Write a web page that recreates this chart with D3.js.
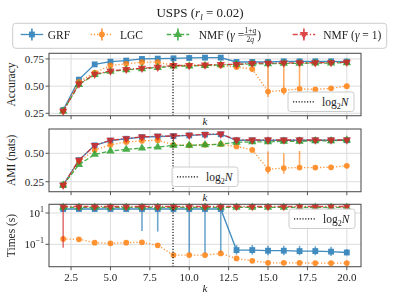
<!DOCTYPE html>
<html>
<head>
<meta charset="utf-8">
<script src="https://cdn.jsdelivr.net/npm/d3@7"></script>
<style>
body{margin:0;background:#fff}
text{font-family:"Liberation Serif","Times New Roman",serif;fill:#222}
</style>
</head>
<body>
<svg id="canvas" width="400" height="300"></svg>
<script>
let ks = [2,3,4,5,6,7,8,9,10,11,12,13,14,15,16,17,18,19,20]
let xTicks = [2.5,5,7.5,10,12.5,15,17.5,20]
let log2N = 8.97

// accuracy
let accGRF  = [0.28,0.56,0.70,0.725,0.735,0.75,0.753,0.756,0.759,0.762,0.762,0.722,0.722,0.722,0.728,0.728,0.728,0.728,0.726]
let accLGC  = [0.27,0.54,0.625,0.69,0.705,0.72,0.72,0.69,0.69,0.69,0.69,0.675,0.657,0.45,0.46,0.475,0.47,0.48,0.50]
let accNMFq = [0.27,0.515,0.605,0.635,0.65,0.66,0.67,0.685,0.685,0.69,0.695,0.70,0.705,0.705,0.71,0.71,0.712,0.712,0.715]
let accNMF1 = [0.27,0.52,0.61,0.64,0.655,0.665,0.675,0.69,0.69,0.695,0.70,0.70,0.71,0.712,0.713,0.715,0.715,0.717,0.72]
let accTicks = [0.25,0.50,0.75]

// AMI
let amiGRF  = [0.22,0.44,0.57,0.612,0.628,0.643,0.648,0.652,0.658,0.665,0.668,0.615,0.615,0.615,0.615,0.615,0.615,0.615,0.615]
let amiLGC  = [0.22,0.426,0.53,0.575,0.60,0.61,0.615,0.575,0.57,0.575,0.58,0.56,0.53,0.36,0.37,0.375,0.374,0.377,0.39]
let amiNMFq = [0.22,0.40,0.49,0.52,0.535,0.545,0.555,0.57,0.57,0.575,0.58,0.597,0.60,0.60,0.605,0.605,0.61,0.61,0.617]
let amiNMF1 = [0.22,0.44,0.57,0.615,0.63,0.645,0.65,0.653,0.66,0.667,0.67,0.617,0.617,0.617,0.617,0.617,0.617,0.617,0.617]
let amiTicks = [0.25,0.50]

// times (s)
let timeGRF  = [18,18,18,18,18,18,18,18,18,18,18,0.043,0.043,0.039,0.039,0.037,0.037,0.034,0.030]
let timeLGC  = [0.22,0.21,0.128,0.116,0.128,0.135,0.086,0.0205,0.0205,0.0205,0.026,0.0125,0.0089,0.0066,0.0066,0.0065,0.0063,0.0063,0.0063]
let timeNMFq = [23,23,23,23,23,23,23,23,23,23,23,23,23,23,23,23,23,23,23]
let timeNMF1 = [26,26,26,26,26,26,26,26,26,26,26,26,26,26,26,26,26,26,26]
let timeTicks = [0.1,10]

// error bars: [series, k, low, high]
let errAcc = [['LGC',14,0.635,0.68],['LGC',15,0.40,0.72],['LGC',16,0.42,0.71],['LGC',17,0.465,0.71]]
let errAmi = [['LGC',15,0.32,0.515],['LGC',16,0.32,0.50],['LGC',17,0.38,0.52],
              ['NMF1',13,0.59,0.645],['NMF1',15,0.59,0.645],['NMF1',17,0.59,0.645],['NMF1',19,0.595,0.64]]
let errTime = [['NMF1',2,0.06,26],['GRF',7,0.7,18],['GRF',8,0.65,18],['GRF',10,0.025,18],['GRF',11,0.027,18],['GRF',12,0.027,18],
               ['GRF',13,0.022,0.09],['GRF',14,0.022,0.09],['GRF',15,0.02,0.08],['GRF',16,0.02,0.08],
               ['GRF',17,0.02,0.08],['GRF',18,0.02,0.075],['GRF',19,0.018,0.07],['GRF',20,0.02,0.05]]

let series = [
  {key:'GRF',  color:'#1f77b4', dash:null,        sym:d3.symbolSquare,   size:34, rot:false},
  {key:'LGC',  color:'#ff7f0e', dash:'1.2,2',     sym:d3.symbolCircle,   size:26, rot:false},
  {key:'NMFq', color:'#2ca02c', dash:'4.5,2',     sym:d3.symbolTriangle, size:30, rot:false},
  {key:'NMF1', color:'#d62728', dash:'5,2,1.2,2', sym:d3.symbolTriangle, size:30, rot:true}
]

let canvas = d3.select('#canvas')
let x = d3.scaleLinear().domain([1.1,20.9]).range([49,361])

let panels = [
  {y0:53.3, y1:115.7, y:d3.scaleLinear().domain([0.228,0.802]), ticks:accTicks, label:'Accuracy',
   values:{GRF:accGRF, LGC:accLGC, NMFq:accNMFq, NMF1:accNMF1}, err:errAcc, box:[288,92], log:false},
  {y0:129, y1:191.7, y:d3.scaleLinear().domain([0.162,0.714]), ticks:amiTicks, label:'AMI (nats)',
   values:{GRF:amiGRF, LGC:amiLGC, NMFq:amiNMFq, NMF1:amiNMF1}, err:errAmi, box:[172,167], log:false},
  {y0:204.3, y1:266.7, y:d3.scaleLog().domain([Math.pow(10,-2.43), Math.pow(10,1.556)]), ticks:timeTicks, label:'Times (s)',
   values:{GRF:timeGRF, LGC:timeLGC, NMFq:timeNMFq, NMF1:timeNMF1}, err:errTime, box:[289,209], log:true}
]

let drawMarker = (g, s, cx, cy) => {
  g.append('path')
    .attr('transform', 'translate(' + cx + ',' + cy + ')' + (s.rot ? ' rotate(180)' : ''))
    .attr('d', d3.symbol().type(s.sym).size(s.size)())
    .attr('fill', s.color)
}

panels.forEach((p, pi) => {
  p.y.range([p.y1, p.y0])
  let g = canvas.append('g')

  // grid
  g.selectAll('.gx').data(xTicks).enter().append('line')
    .attr('x1', d => x(d)).attr('x2', d => x(d)).attr('y1', p.y0).attr('y2', p.y1)
    .attr('stroke', '#dcdcdc').attr('stroke-width', 1)
  g.selectAll('.gy').data(p.ticks).enter().append('line')
    .attr('x1', 49).attr('x2', 361).attr('y1', d => p.y(d)).attr('y2', d => p.y(d))
    .attr('stroke', '#dcdcdc').attr('stroke-width', 1)

  // series
  series.forEach(s => {
    let vals = p.values[s.key]
    let gs = g.append('g').attr('opacity', 0.85)
    p.err.filter(e => e[0] === s.key).forEach(e => {
      gs.append('line')
        .attr('x1', x(e[1])).attr('x2', x(e[1]))
        .attr('y1', p.y(e[2])).attr('y2', p.y(e[3]))
        .attr('stroke', s.color).attr('stroke-width', 1.6).attr('opacity', 0.75)
    })
    let line = d3.line().x((d, i) => x(ks[i])).y(d => p.y(d))
    gs.append('path').datum(vals).attr('d', line)
      .attr('fill', 'none').attr('stroke', s.color).attr('stroke-width', 1.3)
      .attr('stroke-dasharray', s.dash)
    vals.forEach((v, i) => drawMarker(gs, s, x(ks[i]), p.y(v)))
  })

  // log2 N line
  let allVals = [].concat(...series.map(s => p.values[s.key]))
  g.append('line')
    .attr('x1', x(log2N)).attr('x2', x(log2N))
    .attr('y1', p.y1).attr('y2', p.y(d3.max(allVals)))
    .attr('stroke', '#111').attr('stroke-width', 1.2).attr('stroke-dasharray', '1.2,1.6')

  // frame
  g.append('rect').attr('x', 49).attr('y', p.y0).attr('width', 312).attr('height', p.y1 - p.y0)
    .attr('fill', 'none').attr('stroke', '#555').attr('stroke-width', 1.1)

  // x ticks
  g.selectAll('.tx').data(xTicks).enter().append('line')
    .attr('x1', d => x(d)).attr('x2', d => x(d)).attr('y1', p.y1).attr('y2', p.y1 + 3.5)
    .attr('stroke', '#555')
  if (pi === 2) {
    g.selectAll('.lx').data(xTicks).enter().append('text')
      .attr('x', d => x(d)).attr('y', 281).attr('text-anchor', 'middle')
      .attr('font-size', 11).text(d => d.toFixed(1))
  }
  g.append('text').attr('x', 205).attr('y', pi === 2 ? 292 : p.y1 + 9.5)
    .attr('text-anchor', 'middle').attr('font-size', 11).attr('font-style', 'italic').text('k')

  // y ticks
  g.selectAll('.ty').data(p.ticks).enter().append('line')
    .attr('x1', 45.5).attr('x2', 49).attr('y1', d => p.y(d)).attr('y2', d => p.y(d))
    .attr('stroke', '#555')
  p.ticks.forEach(t => {
    let tx = g.append('text').attr('x', 44).attr('y', p.y(t) + 4).attr('text-anchor', 'end').attr('font-size', 11)
    if (p.log) {
      let e = Math.round(Math.log10(t))
      tx.append('tspan').text('10')
      tx.append('tspan').attr('dy', -5).attr('font-size', 8).text(e < 0 ? '\u2212' + (-e) : e)
    } else {
      tx.text(t.toFixed(2))
    }
  })
  g.append('text')
    .attr('transform', 'translate(15,' + ((p.y0 + p.y1) / 2) + ') rotate(-90)')
    .attr('text-anchor', 'middle').attr('font-size', 11.5).text(p.label)

  // log2 N legend
  let bx = p.box[0], by = p.box[1]
  g.append('rect').attr('x', bx).attr('y', by).attr('width', 66).attr('height', 19.5).attr('rx', 2.5)
    .attr('fill', '#fff').attr('fill-opacity', 0.85).attr('stroke', '#ccc')
  g.append('line').attr('x1', bx + 5).attr('x2', bx + 27).attr('y1', by + 9.8).attr('y2', by + 9.8)
    .attr('stroke', '#111').attr('stroke-width', 1.2).attr('stroke-dasharray', '1.2,1.6')
  let lt = g.append('text').attr('x', bx + 34).attr('y', by + 13.5).attr('font-size', 11.5)
  lt.append('tspan').text('log')
  lt.append('tspan').attr('dy', 3).attr('font-size', 8).text('2')
  lt.append('tspan').attr('dy', -3).attr('font-style', 'italic').text('N')
})

// title
let title = canvas.append('text').attr('x', 200).attr('y', 17).attr('text-anchor', 'middle').attr('font-size', 13)
title.append('tspan').text('USPS (')
title.append('tspan').attr('font-style', 'italic').text('r')
title.append('tspan').attr('dy', 3).attr('font-size', 9).attr('font-style', 'italic').text('l')
title.append('tspan').attr('dy', -3).text(' = 0.02)')

// main legend
let lg = canvas.append('g')
lg.append('rect').attr('x', 12.7).attr('y', 23.3).attr('width', 374).attr('height', 25).attr('rx', 3)
  .attr('fill', '#fff').attr('stroke', '#ccc')
let legendPos = [[20.7, 47.7], [90.7, 120], [166.7, 198.7], [292.7, 323.3]]
series.forEach((s, i) => {
  let lx = legendPos[i][0], tx = legendPos[i][1], ly = 34.5
  let gs = lg.append('g').attr('opacity', 0.85)
  gs.append('line').attr('x1', lx).attr('x2', lx + 22.5).attr('y1', ly).attr('y2', ly)
    .attr('stroke', s.color).attr('stroke-width', 1.3).attr('stroke-dasharray', s.dash)
  gs.append('line').attr('x1', lx + 11.2).attr('x2', lx + 11.2).attr('y1', ly - 6).attr('y2', ly + 6)
    .attr('stroke', s.color).attr('stroke-width', 1.6)
  drawMarker(gs, s, lx + 11.2, ly)

  let t = lg.append('text').attr('x', tx).attr('y', 38.5).attr('font-size', 11.5)
  if (s.key === 'GRF') t.text('GRF')
  else if (s.key === 'LGC') t.text('LGC')
  else if (s.key === 'NMF1') {
    t.append('tspan').text('NMF (')
    t.append('tspan').attr('font-style', 'italic').text('\u03b3')
    t.append('tspan').text(' = 1)')
  } else {
    t.append('tspan').text('NMF (')
    t.append('tspan').attr('font-style', 'italic').text('\u03b3')
    t.append('tspan').text(' = ')
    let w = t.node().getComputedTextLength()
    let fx = tx + w + 6
    lg.append('text').attr('x', fx).attr('y', 33).attr('text-anchor', 'middle').attr('font-size', 7.5)
      .html('1+<tspan font-style="italic">q</tspan>')
    lg.append('line').attr('x1', fx - 6).attr('x2', fx + 6).attr('y1', 34.8).attr('y2', 34.8)
      .attr('stroke', '#222').attr('stroke-width', 0.7)
    lg.append('text').attr('x', fx).attr('y', 41.5).attr('text-anchor', 'middle').attr('font-size', 7.5)
      .html('2<tspan font-style="italic">q</tspan>')
    lg.append('text').attr('x', fx + 7).attr('y', 38.5).attr('font-size', 11.5).text(')')
  }
})
</script>
</body>
</html>
